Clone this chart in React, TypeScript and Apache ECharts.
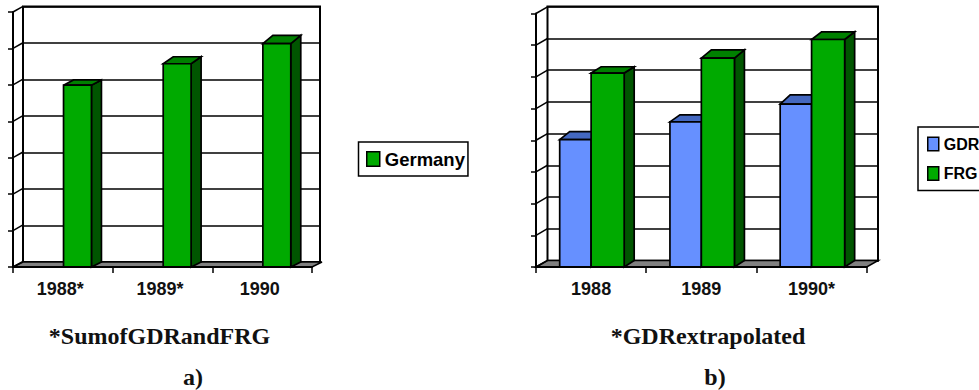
import React, { useEffect, useRef } from "react";
import * as echarts from "echarts";

// Categories and series values, in units of one axis tick
const yearsA = ["1988*", "1989*", "1990"];
const germany = [4.99, 5.58, 6.13];
const yearsB = ["1988", "1989", "1990*"];
const gdr = [4.02, 4.58, 5.14];
const frg = [6.12, 6.59, 7.18];
const ticksA = [0, 1, 2, 3, 4, 5, 6, 7];
const ticksB = [0, 1, 2, 3, 4, 5, 6, 7, 8];

// Pixel rise of each column's top face
const riseGermany = [5.3, 7, 8.3];
const riseGdr = [8, 7, 9.3];
const riseFrg = [6.3, 8.3, 7.7];

const GREEN = { front: "#00AA00", top: "#008000", side: "#005500" };
const BLUE = { front: "#6690FF", top: "#4468C0", side: "#334D99" };
const INK = "#000000";
const FONT_SANS = '"Liberation Sans", Arial, sans-serif';
const FONT_SERIF = '"Liberation Serif", "Times New Roman", serif';

// Extruded column: front face, top face and side face
function columnRenderer(shade: any, dx: number, dyBase: number, rise: number[], offset: number, ratio: number) {
  return (params: any, api: any) => {
    const band = api.size([1, 0])[0];
    const top = api.coord([api.value(0), api.value(1)]);
    const base = api.coord([api.value(0), 0]);
    const dy = -rise[params.dataIndex];
    const w = band * ratio;
    const x0 = top[0] + band * offset;
    const x1 = x0 + w;
    const line = { stroke: INK, lineWidth: 1.7, lineJoin: "miter" };
    return {
      type: "group",
      children: [
        {
          type: "polygon",
          shape: { points: [[x1, top[1]], [x1 + dx, top[1] + dy], [x1 + dx, base[1] + dyBase], [x1, base[1]]] },
          style: { fill: shade.side, ...line },
        },
        {
          type: "polygon",
          shape: { points: [[x0, top[1]], [x0 + dx, top[1] + dy], [x1 + dx, top[1] + dy], [x1, top[1]]] },
          style: { fill: shade.top, ...line },
        },
        {
          type: "rect",
          shape: { x: x0, y: top[1], width: w, height: base[1] - top[1] },
          style: { fill: shade.front, ...line },
        },
      ],
    };
  };
}

// Short slanted strokes joining the front axis to the back wall
function connectorRenderer(dx: number, dy: number) {
  return (params: any, api: any) => {
    const y = api.coord([0, api.value(1)])[1];
    const x = params.coordSys.x;
    return {
      type: "line",
      shape: { x1: x, y1: y, x2: x + dx, y2: y + dy },
      style: { stroke: INK, lineWidth: 1.5 },
    };
  };
}

// Grey floor parallelogram under the columns
function floorRenderer(dx: number, dy: number) {
  return (params: any, api: any) => {
    const { x, width } = params.coordSys;
    const y = api.coord([0, 0])[1];
    return {
      type: "polygon",
      shape: { points: [[x, y], [x + dx, y + dy], [x + width + dx, y + dy], [x + width, y]] },
      style: { fill: "#808080", stroke: INK, lineWidth: 1.5 },
    };
  };
}

function frontAxes(cats: string[], grid: number, max: number, labelPadding: number[]) {
  return {
    x: {
      type: "category",
      gridIndex: grid,
      data: cats,
      z: 6,
      axisLine: { show: true, lineStyle: { color: INK, width: 2 } },
      axisTick: { show: true, length: 6, alignWithLabel: false, lineStyle: { color: INK, width: 1.5 } },
      axisLabel: { show: true, interval: 0, margin: 13, padding: labelPadding, color: "#111111", fontFamily: FONT_SANS, fontWeight: "bold", fontSize: 18 },
      splitLine: { show: false },
    },
    y: {
      type: "value",
      gridIndex: grid,
      min: 0,
      max,
      interval: 1,
      z: 6,
      axisLine: { show: true, lineStyle: { color: INK, width: 2 } },
      axisTick: { show: true, length: 5, lineStyle: { color: INK, width: 1.5 } },
      axisLabel: { show: false },
      splitLine: { show: false },
    },
  };
}

function backAxes(cats: string[], grid: number, max: number) {
  return {
    x: { type: "category", gridIndex: grid, data: cats, show: false },
    y: {
      type: "value",
      gridIndex: grid,
      min: 0,
      max,
      interval: 1,
      axisLine: { show: false },
      axisTick: { show: false },
      axisLabel: { show: false },
      splitLine: { show: true, lineStyle: { color: INK, width: 1.5 } },
    },
  };
}

const toPairs = (values: number[]) => values.map((v, i) => [i, v]);
const tickPairs = (values: number[]) => values.map((v) => [0, v]);

function buildOption() {
  const aFront = frontAxes(yearsA, 0, 7, [0, 5, 0, 0]);
  const aBack = backAxes(yearsA, 1, 7);
  const bFront = frontAxes(yearsB, 2, 8, [0, 0, 0, 0]);
  const bBack = backAxes(yearsB, 3, 8);

  const helper = (name: string, axis: number, data: any[], renderItem: any, z: number) => ({
    type: "custom",
    name,
    xAxisIndex: axis,
    yAxisIndex: axis,
    data,
    renderItem,
    clip: false,
    silent: true,
    z,
  });
  const column = (name: string, axis: number, values: number[], shade: any, r: any, z: number) => ({
    type: "custom",
    name,
    xAxisIndex: axis,
    yAxisIndex: axis,
    data: toPairs(values),
    renderItem: r,
    itemStyle: { color: shade.front },
    clip: false,
    z,
  });
  const caption = (text: string, x: number, y: number) => ({
    type: "text",
    x,
    y,
    style: { text, fill: "#111111", font: `bold 24px ${FONT_SERIF}`, textAlign: "center", textVerticalAlign: "middle" },
  });
  const legendBase = {
    orient: "vertical",
    icon: "rect",
    borderColor: INK,
    borderWidth: 1.5,
    backgroundColor: "#FFFFFF",
  };
  const legendText = (fontSize: number, shift: number) => ({
    color: INK,
    fontFamily: FONT_SANS,
    fontWeight: "bold",
    fontSize,
    padding: [0, 0, 0, shift],
  });

  return {
    animation: false,
    backgroundColor: "#FFFFFF",
    grid: [
      { left: 13, top: 12, width: 299, height: 255 },
      { left: 23, top: 6.5, width: 297, height: 255.5, show: true, backgroundColor: "#FFFFFF", borderColor: INK, borderWidth: 2 },
      { left: 536, top: 13.5, width: 330.7, height: 253.5 },
      { left: 547.5, top: 6.5, width: 330.5, height: 254.2, show: true, backgroundColor: "#FFFFFF", borderColor: INK, borderWidth: 2 },
    ],
    xAxis: [aFront.x, aBack.x, bFront.x, bBack.x],
    yAxis: [aFront.y, aBack.y, bFront.y, bBack.y],
    legend: [
      {
        ...legendBase,
        data: ["Germany"],
        left: 358.5,
        top: 142,
        padding: [7.5, 3, 7.5, 7.5],
        itemWidth: 13,
        itemHeight: 14.5,
        itemStyle: { borderColor: INK, borderWidth: 1.5 },
        textStyle: legendText(18.5, 0),
      },
      {
        ...legendBase,
        data: ["GDR", "FRG"],
        left: 918,
        top: 127,
        padding: [9, 12, 9, 9],
        itemGap: 13.5,
        itemWidth: 11,
        itemHeight: 13.5,
        itemStyle: { borderColor: INK, borderWidth: 1.5 },
        textStyle: legendText(16, 0),
      },
    ],
    series: [
      helper("floorA", 0, [[0, 0]], floorRenderer(10, -5), 2),
      helper("connectorsA", 0, tickPairs(ticksA), connectorRenderer(10, -5.7), 3),
      column("Germany", 0, germany, GREEN, columnRenderer(GREEN, 10, -5, riseGermany, 0.007, 0.28), 4),
      helper("floorB", 2, [[0, 0]], floorRenderer(11.5, -6.5), 2),
      helper("connectorsB", 2, tickPairs(ticksB), connectorRenderer(11.5, -6.7), 3),
      column("GDR", 2, gdr, BLUE, columnRenderer(BLUE, 10, -6.5, riseGdr, -0.285, 0.285), 4),
      column("FRG", 2, frg, GREEN, columnRenderer(GREEN, 10, -6.5, riseFrg, 0, 0.3), 5),
    ],
    graphic: [
      caption("*SumofGDRandFRG", 159.5, 336),
      caption("a)", 193, 377),
      caption("*GDRextrapolated", 708, 336),
      caption("b)", 715, 377),
    ],
  };
}

export default function App() {
  const ref = useRef<HTMLDivElement>(null);
  useEffect(() => {
    const chart = echarts.init(ref.current, undefined, { renderer: "svg" });
    chart.setOption(buildOption() as any);
    return () => chart.dispose();
  }, []);
  return (
    <div style={{ position: "fixed", left: 0, top: 0, width: 979, height: 390, overflow: "hidden", background: "#fff" }}>
      <div ref={ref} style={{ width: 979, height: 390 }} />
    </div>
  );
}
